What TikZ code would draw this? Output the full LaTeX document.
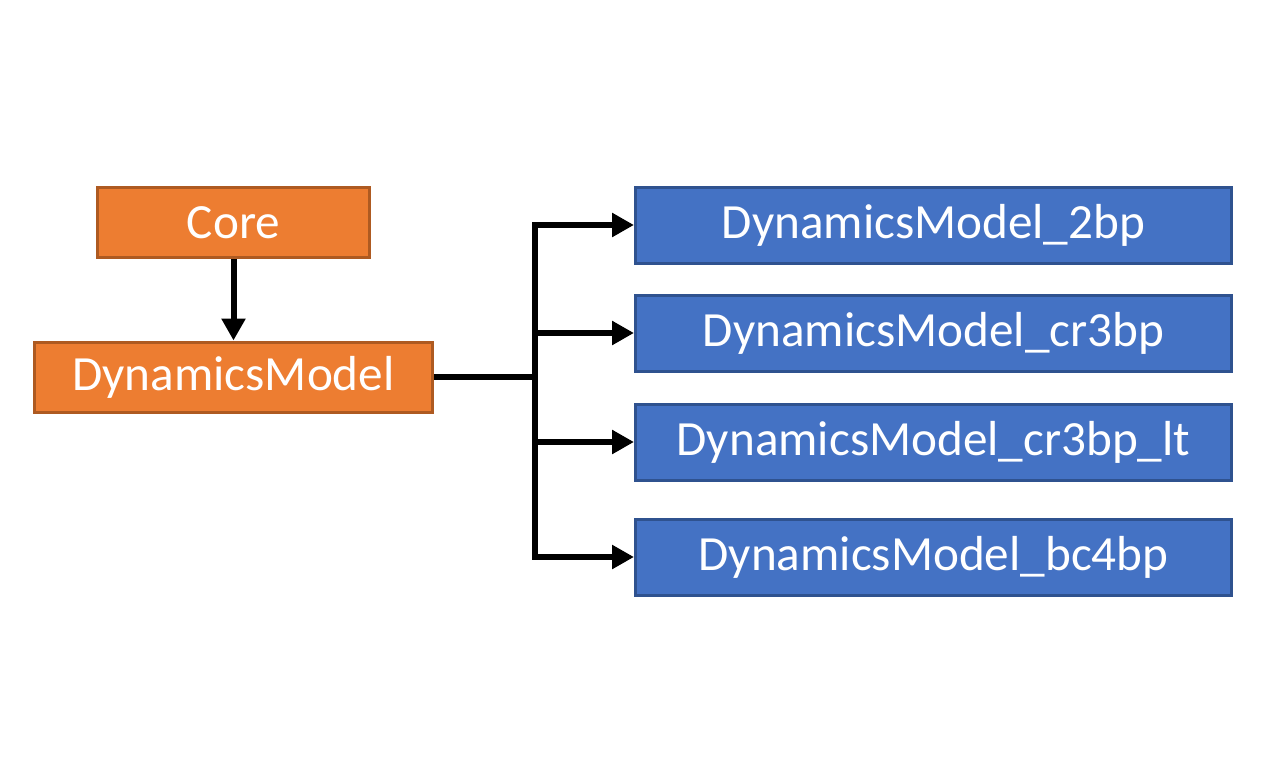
\documentclass[tikz,border=0pt]{standalone}
\usepackage{fontspec}
\setmainfont{Carlito}
\usetikzlibrary{arrows.meta}
\definecolor{coreorange}{HTML}{ED7D31}
\definecolor{coreedge}{HTML}{AE5A21}
\definecolor{modelblue}{HTML}{4472C4}
\definecolor{modeledge}{HTML}{2F528F}
\begin{document}
\begin{tikzpicture}[line width=0.12cm,
    base node/.style={rectangle,draw=coreedge,fill=coreorange,line width=0.06cm,text=white,inner sep=0pt,minimum height=1.4cm,font=\fontsize{28}{34}\selectfont},
    model node/.style={rectangle,draw=modeledge,fill=modelblue,line width=0.06cm,text=white,inner sep=0pt,minimum width=11.92cm,minimum height=1.52cm,font=\fontsize{28}{34}\selectfont},
    link/.style={-{Triangle[length=0.44cm,width=0.46cm]}}]
                \useasboundingbox (0,0) rectangle (25.6,-15.36);
                \node[base node,minimum width=5.44cm] at (4.67, -4.45) (core) {Core};
                \node[base node,minimum width=7.96cm] at (4.67, -7.54) (dyn) {DynamicsModel};
                \node[model node] at (18.67, -4.5) (m2bp) {DynamicsModel\_2bp};
                \node[model node] at (18.67, -6.66) (cr3bp) {DynamicsModel\_cr3bp};
                \node[model node] at (18.67, -8.84) (lt) {DynamicsModel\_cr3bp\_lt};
                \node[model node] at (18.67, -11.14) (bc4bp) {DynamicsModel\_bc4bp};
                \coordinate (split) at (10.7, -7.54);

            \draw[link] (core) -- (dyn);
            \draw (dyn) -- (split);

            \draw[link] (split) |- (m2bp);
            \draw[link] (split) |- (cr3bp);
            \draw[link] (split) |- (lt);
            \draw[link] (split) |- (bc4bp);

            \end{tikzpicture}
\end{document}
